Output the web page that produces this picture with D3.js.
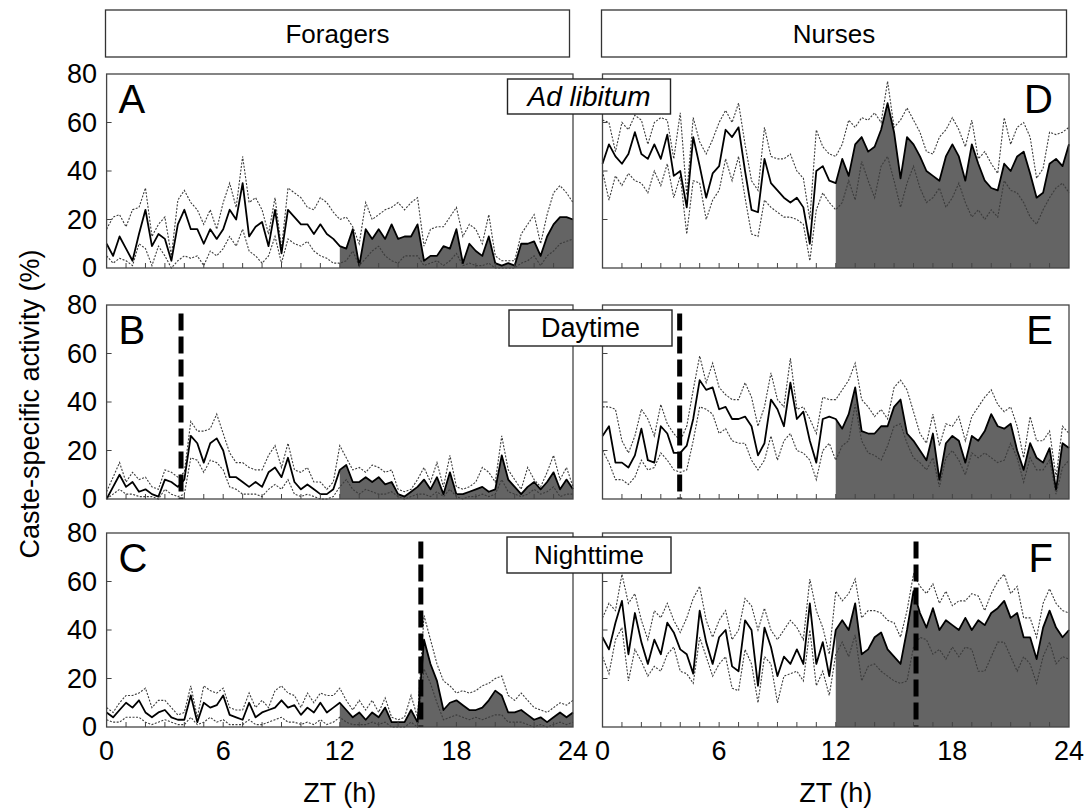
<!DOCTYPE html>
<html>
<head>
<meta charset="utf-8">
<script src="https://cdn.jsdelivr.net/npm/d3@7"></script>
<style>
  body { margin: 0; background: #fff; }
  svg { display: block; }
  text { font-family: "Liberation Sans", Arial, sans-serif; fill: #000; }
</style>
</head>
<body>
<div id="chart"></div>
<script>
// Caste-specific activity (%) in 20-min bins, ZT 0 -> 24 (73 points per series)
const castes = ["Foragers", "Nurses"];
const conditions = ["Ad libitum", "Daytime", "Nighttime"];
const panelLetters = [["A", "B", "C"], ["D", "E", "F"]];
const shiftZT = [[null, 3.83, 16.17], [null, 3.97, 16.13]];   // time of the feeding shift (thick dashed line)
const yTicks = [0, 20, 40, 60, 80];
const xTickLabels = [0, 6, 12, 18, 24];

// Foragers
const forAdlibMean = [10,5,13,8,3,14,24,9,14,12,3,18,24,16,16,10,16,12,16,24,20,35,13,17,19,9,24,6,24,21,18,18,14,18,14,12,
  9,8,16,1,16,12,16,12,18,12,13,13,18,3,5,5,9,8,16,2,10,7,5,13,2,1,2,1,10,10,11,5,13,18,21,21,20];
const forAdlibUpper = [16,21,22,17,24,25,33,13,18,21,5,28,32,27,24,18,24,16,27,35,25,46,27,29,24,14,29,8,33,31,29,25,24,29,27,23,
  20,21,17,10,27,20,22,24,25,27,24,27,29,9,16,17,17,21,25,13,18,16,10,22,5,3,3,3,14,18,22,10,22,31,34,31,27];
const forAdlibLower = [5,2,4,3,1,10,8,1,9,5,0,3,5,4,5,1,7,5,8,13,9,16,7,5,2,5,13,2,12,10,9,11,7,5,4,2,
  2,3,7,1,4,7,9,5,3,2,5,5,5,1,2,3,1,3,6,1,2,1,1,2,0,0,0,0,2,3,5,1,5,7,10,11,12];

const forDayMean = [0,5,10,5,7,3,4,2,1,8,7,5,8,26,23,15,23,25,20,9,9,7,5,7,5,11,13,9,17,7,4,6,4,2,2,4,
  12,14,7,7,9,7,9,6,7,2,1,3,5,8,4,9,2,11,2,2,3,4,5,3,4,18,8,5,2,5,7,4,7,11,4,8,4];
const forDayUpper = [3,9,15,7,11,8,9,5,4,12,11,9,11,32,28,28,29,35,27,19,15,15,13,12,12,18,22,13,23,12,11,13,7,7,4,7,
  22,17,12,13,11,14,13,11,12,4,3,4,8,13,7,15,5,18,5,4,5,7,13,11,7,26,12,8,4,13,8,5,11,18,8,13,5];
const forDayLower = [0,2,4,2,2,1,1,1,0,4,2,1,2,17,16,11,16,15,12,5,4,2,2,2,1,4,6,4,8,2,1,2,1,0,0,1,
  5,8,4,2,4,3,2,2,3,1,0,1,2,2,1,3,1,4,1,0,1,1,2,1,2,8,3,2,1,2,4,2,3,5,1,2,2];

const forNightMean = [6,4,7,10,8,11,6,4,6,7,4,3,3,13,2,10,8,9,13,5,4,3,10,4,6,7,8,11,8,9,5,8,6,10,6,8,
  10,7,4,6,3,6,4,8,2,2,2,7,2,36,26,19,7,10,11,9,7,7,8,11,15,13,6,6,7,5,3,4,2,4,6,4,6];
const forNightUpper = [8,6,10,13,13,14,16,8,11,11,8,5,6,17,4,17,15,14,16,8,7,7,14,8,11,8,15,17,14,13,8,14,10,14,13,13,
  16,11,7,11,7,11,6,12,4,3,4,13,4,46,36,26,19,17,14,15,14,15,17,18,20,21,13,11,14,11,8,7,6,8,10,9,11];
const forNightLower = [3,2,2,4,4,4,2,1,2,3,2,1,1,4,1,2,4,2,3,1,1,1,3,1,1,2,3,4,2,2,1,2,1,3,1,2,
  4,2,1,1,1,2,1,2,0,0,0,2,0,24,18,10,3,4,5,4,3,4,3,4,5,5,2,2,2,1,0,1,0,1,2,1,2];

// Nurses
const nurAdlibMean = [43,51,46,43,47,56,47,45,51,45,55,38,40,25,54,42,29,39,42,57,54,58,40,24,23,45,35,32,29,27,29,25,10,40,42,36,
  35,45,38,51,54,48,50,57,68,56,37,54,51,46,40,38,36,46,51,46,36,51,43,36,33,32,43,40,46,48,39,29,31,43,45,42,51];
const nurAdlibUpper = [61,60,48,60,57,63,61,51,60,62,61,45,64,30,62,52,47,53,60,65,60,68,51,36,32,58,46,45,45,47,40,37,20,57,50,47,
  46,51,61,58,62,61,64,60,77,58,61,66,61,56,48,47,54,57,62,57,50,61,45,48,43,39,62,51,58,60,54,37,41,56,55,56,58];
const nurAdlibLower = [40,28,38,34,39,36,35,31,40,34,43,29,38,14,36,35,20,28,32,45,36,46,29,14,13,28,25,23,21,21,20,18,3,24,31,27,
  24,27,36,28,44,36,29,42,46,36,25,35,42,33,27,29,33,25,29,35,27,21,24,20,24,21,36,32,31,27,21,18,24,29,33,35,31];

const nurDayMean = [26,30,15,15,13,18,29,16,15,30,27,19,19,22,33,49,45,46,37,38,33,33,34,30,18,23,41,37,30,48,33,36,24,15,33,34,
  33,29,35,46,28,27,27,30,30,38,41,27,24,20,16,27,8,23,26,24,15,26,24,28,35,30,29,31,20,12,23,17,15,21,4,23,21];
const nurDayUpper = [38,38,37,24,19,26,37,33,26,39,31,27,24,30,45,59,48,56,46,43,41,41,48,42,30,38,52,41,38,58,37,38,33,27,42,41,
  41,45,49,56,41,38,34,37,33,46,49,45,36,27,23,35,22,31,30,34,24,34,38,42,45,39,36,38,30,17,34,24,24,28,9,30,27];
const nurDayLower = [20,15,8,8,6,9,16,12,13,19,16,12,11,12,24,38,37,35,27,29,24,23,23,16,12,16,26,16,24,27,20,19,16,8,20,23,
  16,22,24,39,24,19,18,16,22,30,31,23,17,15,12,17,5,17,20,16,10,19,17,19,17,15,16,23,17,7,17,12,12,16,2,13,16];

const nurNightMean = [37,32,43,52,30,47,35,26,36,30,43,39,32,30,22,48,35,26,37,40,25,23,44,40,17,41,33,21,29,26,32,26,51,26,35,21,
  40,44,40,51,30,32,37,39,32,29,26,40,56,47,41,49,40,44,42,40,45,40,44,42,47,49,52,45,47,37,37,28,41,48,41,37,40];
const nurNightUpper = [45,51,48,63,51,55,44,36,48,45,51,44,39,45,53,58,44,37,44,48,36,40,53,50,40,49,40,36,40,44,41,36,61,48,41,30,
  56,52,55,61,45,48,48,47,44,43,37,48,63,58,55,59,51,56,50,52,52,55,54,48,55,60,63,55,58,45,45,37,51,57,51,48,47];
const nurNightLower = [29,22,36,41,19,32,27,21,25,23,30,33,23,22,18,37,29,21,26,29,16,15,32,26,10,29,26,10,21,22,23,19,40,17,23,13,
  30,35,29,38,19,25,26,23,21,19,18,19,33,37,36,30,32,28,33,29,33,32,23,23,29,35,35,29,23,29,26,18,29,35,26,29,28];

const series = [
  [
    { mean: forAdlibMean, upper: forAdlibUpper, lower: forAdlibLower },
    { mean: forDayMean, upper: forDayUpper, lower: forDayLower },
    { mean: forNightMean, upper: forNightUpper, lower: forNightLower },
  ],
  [
    { mean: nurAdlibMean, upper: nurAdlibUpper, lower: nurAdlibLower },
    { mean: nurDayMean, upper: nurDayUpper, lower: nurDayLower },
    { mean: nurNightMean, upper: nurNightUpper, lower: nurNightLower },
  ],
];
const ZT = d3.range(73).map(i => i * 20 / 60);   // bin start times (h)

const W = 1089, H = 812;
const colX = [[106.6, 573], [602.5, 1069]];
const rowY = [[74, 268], [305, 499], [533, 727]];
const condBox = [
  { x: 507.5, y: 79, w: 163, h: 35, italic: true, size: 28 },
  { x: 509, y: 310, w: 163, h: 36, italic: false, size: 27 },
  { x: 507, y: 537, w: 164, h: 36, italic: false, size: 26 },
];

const svg = d3.select("#chart").append("svg").attr("width", W).attr("height", H);

// column headers
castes.forEach((name, c) => {
  const bx = c === 0 ? 105.5 : 601.5, bw = c === 0 ? 464 : 465;
  svg.append("rect").attr("x", bx).attr("y", 10).attr("width", bw).attr("height", 47)
    .attr("fill", "#fff").attr("stroke", "#333").attr("stroke-width", 1.3);
  svg.append("text").attr("x", bx + bw / 2).attr("y", 34).attr("dy", "0.35em")
    .attr("text-anchor", "middle").attr("font-size", 26).text(name);
});

castes.forEach((caste, c) => {
  const x = d3.scaleLinear().domain([0, 24]).range(colX[c]);
  conditions.forEach((cond, r) => {
    const y = d3.scaleLinear().domain([0, 80]).range([rowY[r][1], rowY[r][0]]);
    const s = series[c][r];
    const pts = ZT.map((t, i) => ({ t, m: s.mean[i], u: s.upper[i], l: s.lower[i] }));
    const g = svg.append("g");

    // dark phase: area under the mean from ZT 12
    g.append("path").datum(pts.filter(d => d.t >= 12))
      .attr("fill", "#646464")
      .attr("d", d3.area().x(d => x(d.t)).y0(y(0)).y1(d => y(d.m)));

    ["u", "l"].forEach(k => {
      g.append("path").datum(pts)
        .attr("fill", "none").attr("stroke", "#3c3c3c").attr("stroke-width", 1.1)
        .attr("stroke-dasharray", "2,1.5")
        .attr("d", d3.line().x(d => x(d.t)).y(d => y(d[k])));
    });
    g.append("path").datum(pts)
      .attr("fill", "none").attr("stroke", "#000").attr("stroke-width", 1.8)
      .attr("stroke-linejoin", "round")
      .attr("d", d3.line().x(d => x(d.t)).y(d => y(d.m)));

    const sz = shiftZT[c][r];
    if (sz != null) {
      g.append("line").attr("x1", x(sz)).attr("x2", x(sz))
        .attr("y1", y(76.5)).attr("y2", y(0))
        .attr("stroke", "#000").attr("stroke-width", 5).attr("stroke-dasharray", "17,6");
    }

    // frame and inward ticks
    g.append("rect").attr("x", colX[c][0]).attr("y", rowY[r][0])
      .attr("width", colX[c][1] - colX[c][0]).attr("height", rowY[r][1] - rowY[r][0])
      .attr("fill", "none").attr("stroke", "#444").attr("stroke-width", 1.3);
    d3.range(1, 24).forEach(h => {
      g.append("line").attr("x1", x(h)).attr("x2", x(h))
        .attr("y1", y(0)).attr("y2", y(0) - 5).attr("stroke", "#444").attr("stroke-width", 1);
    });
    [20, 40, 60].forEach(v => {
      g.append("line").attr("x1", x(0)).attr("x2", x(0) + 5)
        .attr("y1", y(v)).attr("y2", y(v)).attr("stroke", "#444").attr("stroke-width", 1);
    });

    // panel letter
    g.append("text")
      .attr("x", c === 0 ? colX[c][0] + 12 : colX[c][1] - 16)
      .attr("y", rowY[r][0] + 39)
      .attr("text-anchor", c === 0 ? "start" : "end")
      .attr("font-size", 40).text(panelLetters[c][r]);

    if (c === 0) {
      yTicks.forEach(v => {
        svg.append("text").attr("x", 97).attr("y", y(v)).attr("dy", "0.35em")
          .attr("text-anchor", "end").attr("font-size", 27).text(v);
      });
    }
    if (r === 2) {
      xTickLabels.forEach(v => {
        svg.append("text").attr("x", x(v)).attr("y", 760)
          .attr("text-anchor", "middle").attr("font-size", 27).text(v);
      });
      svg.append("text").attr("x", (colX[c][0] + colX[c][1]) / 2).attr("y", 802)
        .attr("text-anchor", "middle").attr("font-size", 27).text("ZT (h)");
    }
  });
});

// condition labels straddling both columns
conditions.forEach((cond, r) => {
  const b = condBox[r];
  svg.append("rect").attr("x", b.x).attr("y", b.y).attr("width", b.w).attr("height", b.h)
    .attr("fill", "#fff").attr("stroke", "#222").attr("stroke-width", 1.4);
  svg.append("text").attr("x", b.x + b.w / 2).attr("y", b.y + b.h / 2).attr("dy", "0.35em")
    .attr("text-anchor", "middle").attr("font-size", b.size)
    .attr("font-style", b.italic ? "italic" : "normal").text(cond);
});

svg.append("text")
  .attr("transform", "translate(30,404) rotate(-90)")
  .attr("dy", "0.35em").attr("text-anchor", "middle").attr("font-size", 27)
  .text("Caste-specific activity (%)");
</script>
</body>
</html>
